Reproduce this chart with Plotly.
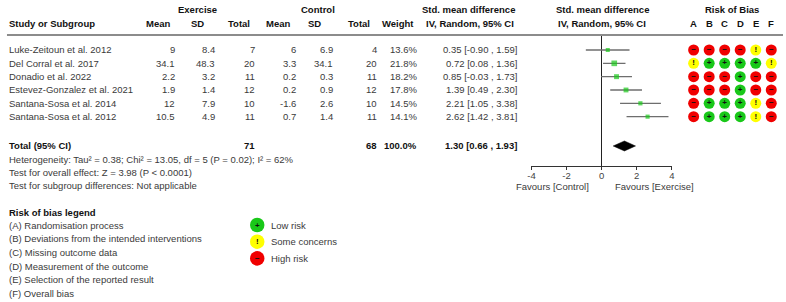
import plotly.graph_objects as go

# ---------------- data ----------------
studies = ["Luke-Zeitoun et al. 2012", "Del Corral et al. 2017", "Donadio et al. 2022",
           "Estevez-Gonzalez et al. 2021", "Santana-Sosa et al. 2014", "Santana-Sosa et al. 2012"]
ex_mean = [9, 34.1, 2.2, 1.9, 12, 10.5]
ex_sd = [8.4, 48.3, 3.2, 1.4, 7.9, 4.9]
ex_n = [7, 20, 11, 12, 10, 11]
ct_mean = [6, 3.3, 0.2, 0.2, -1.6, 0.7]
ct_sd = [6.9, 34.1, 0.3, 0.9, 2.6, 1.4]
ct_n = [4, 20, 11, 12, 10, 11]
weight = [13.6, 21.8, 18.2, 17.8, 14.5, 14.1]
smd = [0.35, 0.72, 0.85, 1.39, 2.21, 2.62]
ci_lo = [-0.90, 0.08, -0.03, 0.49, 1.05, 1.42]
ci_hi = [1.59, 1.36, 1.73, 2.30, 3.38, 3.81]

total_ex_n = 71
total_ct_n = 68
total_weight = 100.0
total_smd = 1.30
total_lo = 0.66
total_hi = 1.93

rob_domains = ["A", "B", "C", "D", "E", "F"]
# '+' low risk, '!' some concerns, '-' high risk  (rows = studies)
rob = [
    ["-", "-", "-", "-", "!", "-"],
    ["!", "+", "+", "+", "+", "!"],
    ["-", "-", "-", "+", "-", "-"],
    ["-", "-", "-", "+", "-", "-"],
    ["-", "+", "+", "+", "!", "-"],
    ["-", "+", "+", "+", "!", "-"],
]
x_ticks = [-4, -2, 0, 2, 4]
heterogeneity = "Heterogeneity: Tau² = 0.38; Chi² = 13.05, df = 5 (P = 0.02); I² = 62%"
overall = "Test for overall effect: Z = 3.98 (P < 0.0001)"
subgroup = "Test for subgroup differences: Not applicable"
rob_legend = ["(A) Randomisation process", "(B) Deviations from the intended interventions",
              "(C) Missing outcome data", "(D) Measurement of the outcome",
              "(E) Selection of the reported result", "(F) Overall bias"]
rob_keys = [("+", "Low risk"), ("!", "Some concerns"), ("-", "High risk")]

# ---------------- style ----------------
W, H = 786, 302
FONT = "Liberation Sans, Arial, sans-serif"
FS = 9.5
TXT = "#3a3a3a"
BOLD = "#111111"
GREEN = "#19c819"
RED = "#f00000"
YELLOW = "#ffff00"
rob_color = {"+": GREEN, "!": YELLOW, "-": RED}
rob_glyph = {"+": "<b>+</b>", "!": "<b>!</b>", "-": "<b>−</b>"}

ROW0, ROWH = 50.0, 13.33
def row_y(k):
    return ROW0 + ROWH * k

def px(x):
    return x / W

def py(y):
    return 1 - y / H

TOTAL_ROW = 7.2

fig = go.Figure()
ann = []

def text(x, y, s, anchor="left", bold=False, color=None, size=FS):
    ann.append(dict(x=px(x), y=py(y), xref="paper", yref="paper", text=("<b>%s</b>" % s) if bold else s,
                    showarrow=False, xanchor=anchor, yanchor="middle", borderpad=0,
                    font=dict(family=FONT, size=size, color=color or (BOLD if bold else TXT))))

def fmt(v):
    return f"{v:g}"

# headers
text(195, 9, "Exercise", "center", True)
text(317, 9, "Control", "center", True)
text(469, 9, "Std. mean difference", "center", True)
text(603.5, 9, "Std. mean difference", "center", True)
text(735, 9, "Risk of Bias", "center", True)
text(4, 23, "Study or Subgroup", "left", True)
for cx, lab in [(155, "Mean"), (195.5, "SD"), (237, "Total"), (276, "Mean"), (313, "SD"),
                (358, "Total"), (398, "Weight"), (470, "IV, Random, 95% CI"), (603.5, "IV, Random, 95% CI")]:
    text(cx, 23, lab, "center", True)
for d in rob_domains:
    ann.append(dict(x=d, y=py(23), xref="x2", yref="paper", text="<b>%s</b>" % d, showarrow=False,
                    xanchor="center", yanchor="middle", borderpad=0,
                    font=dict(family=FONT, size=FS, color=BOLD)))

# column right edges
cols = [174, 214, 254, 296, 333, 377, 418, 519]
for k, name in enumerate(studies):
    y = row_y(k)
    text(4, y, name)
    vals = [fmt(ex_mean[k]), fmt(ex_sd[k]), str(ex_n[k]), fmt(ct_mean[k]), fmt(ct_sd[k]), str(ct_n[k]),
            f"{weight[k]:.1f}%", f"{smd[k]:.2f} [{ci_lo[k]:.2f} , {ci_hi[k]:.2f}]"]
    for xr, v in zip(cols, vals):
        text(xr, y, v, "right")

yt = row_y(TOTAL_ROW)
text(4, yt, "Total (95% CI)", "left", True)
text(cols[2], yt, str(total_ex_n), "right", True)
text(cols[5], yt, str(total_ct_n), "right", True)
text(cols[6], yt, f"{total_weight:.1f}%", "right", True)
text(cols[7], yt, f"{total_smd:.2f} [{total_lo:.2f} , {total_hi:.2f}]", "right", True)
text(4, 159, heterogeneity)
text(4, 172.3, overall)
text(4, 185.7, subgroup)
text(553.5, 186, "Favours [Control]", "center")
text(656, 186, "Favours [Exercise]", "center")

# risk of bias legend
text(4, 212.3, "Risk of bias legend", "left", True)
for i, s in enumerate(rob_legend):
    text(4, 225 + 13.7 * i, s)
shapes = []
for i, (key, lab) in enumerate(rob_keys):
    cy = 225 + 16.7 * i
    r = 7.3
    shapes.append(dict(type="circle", xref="paper", yref="paper", x0=px(255.5 - r), x1=px(255.5 + r),
                       y0=py(cy + r), y1=py(cy - r), fillcolor=rob_color[key], line=dict(width=0)))
    text(255.5, cy, rob_glyph[key], "center", False, "#111111", 8)
    text(268, cy, lab)

# header rule
shapes.append(dict(type="line", xref="paper", yref="paper", x0=px(3), x1=1, y0=py(35), y1=py(35),
                   line=dict(color="#8c8c8c", width=2)))

# forest: study estimates with CIs
fig.add_trace(go.Scatter(
    x=smd, y=[row_y(k) for k in range(len(smd))], mode="markers", xaxis="x", yaxis="y",
    marker=dict(symbol="square", color=GREEN, size=[1.3 + 0.2 * w for w in weight], line=dict(width=0)),
    error_x=dict(type="data", symmetric=False,
                 array=[h - e for h, e in zip(ci_hi, smd)],
                 arrayminus=[e - l for e, l in zip(smd, ci_lo)],
                 color="#6e6e6e", thickness=1.3, width=0),
    hoverinfo="skip", showlegend=False, cliponaxis=False))

# pooled diamond
dh = 5
fig.add_trace(go.Scatter(
    x=[total_lo, total_smd, total_hi, total_smd, total_lo],
    y=[yt, yt - dh, yt, yt + dh, yt], mode="lines", fill="toself", fillcolor="black",
    line=dict(color="black", width=0.5), xaxis="x", yaxis="y", hoverinfo="skip", showlegend=False))

# risk of bias grid
rx, ry, rc, rt = [], [], [], []
for k, row in enumerate(rob):
    for d, v in zip(rob_domains, row):
        rx.append(d)
        ry.append(row_y(k))
        rc.append(rob_color[v])
        rt.append(rob_glyph[v])
fig.add_trace(go.Scatter(
    x=rx, y=ry, mode="markers+text", xaxis="x2", yaxis="y", text=rt, textposition="middle center",
    textfont=dict(family=FONT, size=8, color="#111111"),
    marker=dict(size=11, color=rc, line=dict(width=0)), hoverinfo="skip", showlegend=False,
    cliponaxis=False))

fig.update_layout(
    width=W, height=H, autosize=False, margin=dict(l=0, r=0, t=0, b=0),
    paper_bgcolor="white", plot_bgcolor="rgba(0,0,0,0)",
    font=dict(family=FONT, size=FS, color=TXT),
    xaxis=dict(domain=[532.2 / W, 673.8 / W], range=[-4, 4], tickvals=x_ticks, ticktext=[str(t) for t in x_ticks],
               showgrid=False, zeroline=True, zerolinecolor="#222222", zerolinewidth=1,
               showline=True, linecolor="#333333", linewidth=1, ticks="outside", ticklen=3,
               ticklabelstandoff=-2,
               tickcolor="#333333", tickfont=dict(family=FONT, size=FS, color="#444444"),
               anchor="y", fixedrange=True),
    yaxis=dict(domain=[1 - 166 / H, 1 - 35 / H], range=[166, 35], visible=False, showgrid=False,
               zeroline=False, fixedrange=True),
    xaxis2=dict(domain=[688 / W, 782 / W], range=[-0.5, 5.5], type="category",
                categoryorder="array", categoryarray=rob_domains, visible=False, anchor="y",
                fixedrange=True),
    annotations=ann, shapes=shapes,
)
fig.write_html("out.html", config={"displayModeBar": False},
               post_script="document.body.style.margin='0px';document.body.style.overflow='hidden';")
